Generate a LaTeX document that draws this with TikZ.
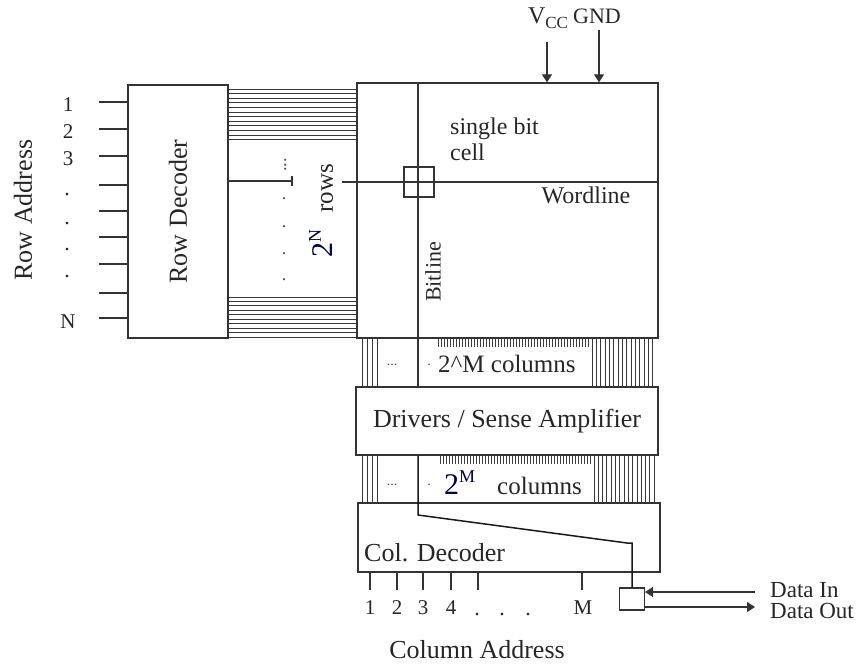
\documentclass[tikz,border=0pt]{standalone}
\usepackage{fontspec}
\setmainfont{Liberation Serif}
\usetikzlibrary{arrows.meta}
\begin{document}
\begin{tikzpicture}[x=1pt,y=-1pt,
  box/.style={draw=black!80, line width=1.3pt, inner sep=0pt},
  wire/.style={draw=black!80, line width=1.2pt},
  bund/.style={draw=black!78, line width=1.0pt},
  tick/.style={draw=black!75, line width=0.8pt},
  arr/.style={wire, -{Triangle[length=8pt,width=10pt]}},
  big/.style={font=\fontsize{26}{28}\selectfont, text=black!85, inner sep=0pt},
  lab/.style={font=\fontsize{24}{27}\selectfont, text=black!85, inner sep=0pt},
  num/.style={font=\fontsize{21}{23}\selectfont, text=black!85, inner sep=0pt},
  dotl/.style={font=\fontsize{22}{23}\selectfont, text=black!85, inner sep=0pt, anchor=base},
  tinyd/.style={font=\fontsize{14}{15}\selectfont, text=black!70, inner sep=0pt, anchor=base}
]
\useasboundingbox (0,0) rectangle (861,665);

% boxes
\node[box, minimum width=100, minimum height=253] (rowdec) at (178,211.5) {};
\node[box, minimum width=301, minimum height=255] (array) at (507.5,210.5) {};
\node[box, big, minimum width=302, minimum height=68] (drivers) at (507,421) {Drivers / Sense Amplifier};
\node[box, minimum width=302, minimum height=69] (coldec) at (509,537.5) {};
\node[box, minimum width=30, minimum height=30, line width=1.1pt] (cell) at (419,182) {};
\node[box, minimum width=25, minimum height=22, line width=1.1pt] (iobox) at (632,599) {};

% labels in boxes
\node[big, rotate=90] (rdlab) at (rowdec.center) {Row Decoder};
\node[big, anchor=west] (cdlab) at (364,553) {Col. Decoder};

% row address inputs
\node[big, rotate=90] (rowaddr) at (23,210) {Row Address};
\foreach \y in {102,129,156,185,211,237,264,293,318}{
  \coordinate (ra) at (99,\y);
  \draw[wire] (ra) -- (rowdec.west |- ra);
}
\node[num] (r1) at (68,105) {1};
\node[num] (r2) at (68,132) {2};
\node[num] (r3) at (68,159) {3};
\node[num] (rN) at (68,322) {N};
\foreach \y/\n in {195.5/a,224.5/b,250.5/c,277.5/d}{
  \node[dotl] (rd\n) at (67,\y) {.};
}

% row bundles
\foreach \i in {0,...,11}{
  \coordinate (t) at (0,89+\i*4.6);
  \draw[bund] (rowdec.east |- t) -- (array.west |- t);
}
\foreach \i in {0,...,9}{
  \coordinate (t) at (0,297+\i*4.45);
  \draw[bund] (rowdec.east |- t) -- (array.west |- t);
}
\coordinate (rm) at (292,181);
\draw[wire] (rowdec.east |- rm) -- (rm);
\draw[wire] ([yshift=-5]rm) -- ([yshift=5]rm);
\node[tinyd, font=\fontsize{18}{19}\selectfont, rotate=90] (vdots) at (286,165) {...};
\foreach \y/\n in {199.5/a,227.5/b,254.5/c,280.5/d}{
  \node[tinyd, font=\fontsize{18}{19}\selectfont] (md\n) at (284,\y) {.};
}
\node[anchor=west, rotate=90, inner sep=0pt, text=black!85] (rows) at (321,258)
  {{\fontsize{30}{32}\selectfont\color{black!70!blue}2}\raisebox{12pt}{\fontsize{18}{19}\selectfont\color{black!70!blue}N}\hspace{17pt}{\fontsize{25}{27}\selectfont rows}};

% wordline & bitline
\coordinate (wl0) at (342,182);
\draw[wire] (wl0) -- (array.east |- wl0);
\node[lab] (wordl) at (586,195) {Wordline};
\coordinate (bl) at (418,0);
\draw[wire] (array.north -| bl) -- (drivers.north -| bl);
\node[font=\fontsize{22}{24}\selectfont, text=black!85, inner sep=0pt, rotate=90] (bitl) at (433,272) {Bitline};
\node[lab, anchor=north west, align=left] (sbc) at (450,118) {single bit\\[-1pt]cell};

% supply
\node[inner sep=0pt, text=black!85] (vcc) at (548,18) {\fontsize{24}{26}\selectfont V\raisebox{-5pt}{\fontsize{17}{18}\selectfont CC}};
\node[inner sep=0pt, text=black!85, font=\fontsize{22}{24}\selectfont] (gnd) at (597,16) {GND};
\coordinate (vccs) at (547,42);
\coordinate (gnds) at (599,30);
\draw[arr] (vccs) -- (array.north -| vccs);
\draw[arr] (gnds) -- (array.north -| gnds);

% column bundles
\foreach \x in {362,367,372,377}{
  \coordinate (c) at (\x,0);
  \draw[bund] (array.south -| c) -- (drivers.north -| c);
  \draw[bund] (drivers.south -| c) -- (coldec.north -| c);
}
\foreach \i in {0,...,14}{
  \coordinate (c) at (592+\i*4.35,0);
  \draw[bund] (array.south -| c) -- (drivers.north -| c);
  \coordinate (c2) at (594+\i*4.3,0);
  \draw[bund] (drivers.south -| c2) -- (coldec.north -| c2);
}
\foreach \i in {0,...,50}{
  \coordinate (c) at (438+\i*3,0);
  \draw[tick] (array.south -| c) -- ++(0,8);
  \coordinate (c2) at (440+\i*3,0);
  \draw[tick] (drivers.south -| c2) -- ++(0,8);
}
\node[tinyd] (el1) at (392,365) {...};
\node[tinyd] (pd1) at (429,365) {.};
\node[font=\fontsize{25}{27}\selectfont, text=black!85, inner sep=0pt, anchor=west] (cols1) at (438,364) {2\textasciicircum M columns};
\node[tinyd] (el2) at (392,485) {...};
\node[tinyd] (pd2) at (429,485) {.};
\node[inner sep=0pt, anchor=west, text=black!85] (cols2) at (444,483)
  {{\fontsize{30}{32}\selectfont\color{black!70!blue}2}\raisebox{12pt}{\fontsize{18}{19}\selectfont\color{black!70!blue}M}\hspace{22pt}{\fontsize{25}{27}\selectfont columns}};

% bitline to data box
\coordinate (bb) at (418,515);
\coordinate (bd) at (627,543);
\draw[wire, draw=black!90, line width=1.5pt] (drivers.south -| bl) -- (bb) -- (bd) -| (iobox.north);

% column address
\foreach \x in {370,397,423,451,478,582}{
  \coordinate (ca) at (\x,590);
  \draw[wire] (coldec.south -| ca) -- (ca);
}
\node[num] (c1) at (370,608) {1};
\node[num] (c2n) at (397,608) {2};
\node[num] (c3) at (423,608) {3};
\node[num] (c4) at (451,608) {4};
\node[num] (cM) at (583,608) {M};
\foreach \x/\n in {477/a,502/b,528/c}{
  \node[dotl] (cd\n) at (\x,615) {.};
}
\node[big] (coladdr) at (477,650) {Column Address};

% data in/out
\coordinate (din) at (755,592);
\coordinate (dout) at (755,607);
\draw[arr] (din) -- (iobox.east |- din);
\draw[arr] (iobox.east |- dout) -- (dout);
\node[font=\fontsize{23}{25}\selectfont, text=black!85, inner sep=0pt, anchor=west] (dinl) at (770,590) {Data In};
\node[font=\fontsize{23}{25}\selectfont, text=black!85, inner sep=0pt, anchor=west] (doutl) at (770,611) {Data Out};
\end{tikzpicture}
\end{document}
